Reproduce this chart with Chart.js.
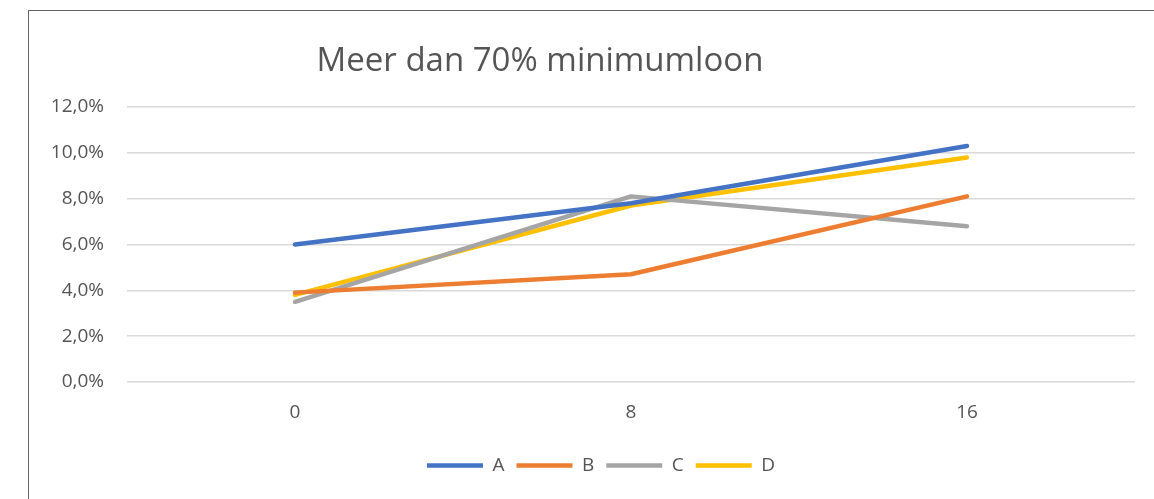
<!DOCTYPE html>
<html>
<head>
<meta charset="utf-8">
<script src="https://cdn.jsdelivr.net/npm/chart.js@4"></script>
<style>
  body { margin: 0; background: #fff; }
  #box {
    position: absolute; left: 28px; top: 10px; width: 1126px; height: 489px;
    border-top: 1px solid #666; border-left: 1px solid #666;
  }
  #chart { display: block; }
</style>
</head>
<body>
<div id="box"><canvas id="chart" width="1125" height="488"></canvas></div>
<script>
const titleText = "Meer dan 70% minimumloon";
const categories = ["0", "8", "16"];
const seriesA = [6.0, 7.8, 10.3];
const seriesB = [3.9, 4.7, 8.1];
const seriesC = [3.5, 8.1, 6.8];
const seriesD = [3.8, 7.7, 9.8];
const yTicks = [0, 2, 4, 6, 8, 10, 12];

const fontFamily = "'Open Sans', sans-serif";
const textColor = "#555555";

function line(label, data, color) {
  return {
    label: label,
    data: data,
    borderColor: color,
    backgroundColor: color,
    borderWidth: 4.5,
    borderCapStyle: "round",
    borderJoinStyle: "round",
    pointRadius: 0,
    pointHoverRadius: 0,
    tension: 0,
    fill: false,
  };
}

// title and legend sit off-centre in the original
const offsetPlugin = {
  id: "offsets",
  afterLayout(chart) {
    chart.legend.left += 19;
    chart.legend.right += 19;
  },
  afterDraw(chart) {
    const ctx = chart.ctx;
    ctx.save();
    ctx.font = "33px " + fontFamily;
    ctx.fillStyle = textColor;
    ctx.textAlign = "center";
    ctx.textBaseline = "middle";
    ctx.fillText(titleText, 511, 51);
    ctx.restore();
  },
};

new Chart(document.getElementById("chart").getContext("2d"), {
  type: "line",
  data: {
    labels: categories,
    datasets: [
      line("A", seriesA, "#4472C4"),
      line("B", seriesB, "#ED7D31"),
      line("C", seriesC, "#A5A5A5"),
      line("D", seriesD, "#FFC000"),
    ],
  },
  options: {
    responsive: false,
    animation: false,
    layout: { padding: { top: 96, right: 19, bottom: 14, left: 0 } },
    plugins: {
      title: { display: false },
      tooltip: { enabled: false },
      legend: {
        position: "bottom",
        labels: {
          usePointStyle: true,
          pointStyle: "line",
          pointStyleWidth: 56,
          boxHeight: 19,
          padding: 12,
          color: textColor,
          font: { family: fontFamily, size: 19 },
        },
      },
    },
    scales: {
      x: {
        offset: true,
        grid: { display: false, drawTicks: false },
        border: { display: false },
        ticks: {
          color: textColor,
          padding: 19,
          font: { family: fontFamily, size: 19 },
        },
        afterFit(scale) {
          scale.height = 62;
        },
      },
      y: {
        min: 0,
        max: 12,
        afterBuildTicks(scale) {
          scale.ticks = yTicks.map((v) => ({ value: v }));
        },
        grid: { color: "#d9d9d9", lineWidth: 1.5, drawTicks: false },
        border: { display: false },
        ticks: {
          color: textColor,
          padding: 23,
          font: { family: fontFamily, size: 19 },
          callback: (v) => v.toFixed(1).replace(".", ",") + "%",
        },
        afterFit(scale) {
          scale.width = 98;
        },
      },
    },
  },
  plugins: [offsetPlugin],
});
</script>
</body>
</html>
